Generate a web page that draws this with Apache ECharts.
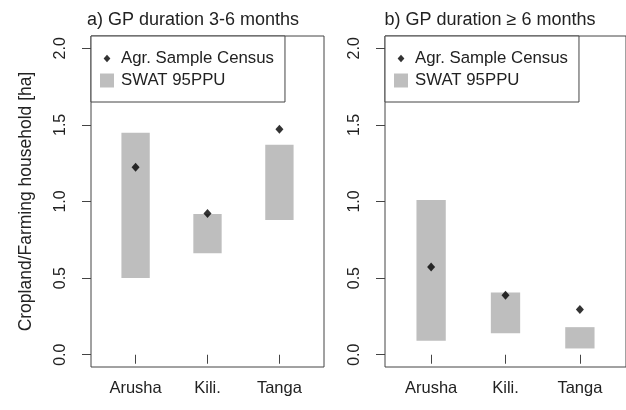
<!DOCTYPE html>
<html>
<head>
<meta charset="utf-8">
<script src="https://cdn.jsdelivr.net/npm/echarts@6/dist/echarts.min.js"></script>
<style>html,body{margin:0;padding:0;background:#fff;}#c{width:626px;height:410px;}</style>
</head>
<body>
<div id="c"></div>
<script>
// ---- data ----
const categories = ['Arusha', 'Kili.', 'Tanga'];
const yTicks = [0, 0.5, 1.0, 1.5, 2.0];
const titles = ['a) GP duration 3-6 months', 'b) GP duration \u2265 6 months'];
const yTitle = 'Cropland/Farming household [ha]';
const seriesNames = ['Agr. Sample Census', 'SWAT 95PPU'];
// panel a) GP duration 3-6 months
const censusA = [1.224, 0.921, 1.471];
const swatLowA = [0.50, 0.663, 0.88];
const swatHighA = [1.449, 0.919, 1.371];
// panel b) GP duration >= 6 months
const censusB = [0.572, 0.389, 0.295];
const swatLowB = [0.091, 0.141, 0.041];
const swatHighB = [1.01, 0.406, 0.18];

const xPos = categories.map((c, i) => i + 1);
const FONT = '"Liberation Sans", Arial, Helvetica, sans-serif';
const TXT = '#222';
const LINE = '#444';
const BAR_HALF = 0.197;

function rangeData(lo, hi) { return xPos.map((x, i) => [x, lo[i], hi[i]]); }
function pointData(v) { return xPos.map((x, i) => [x, v[i]]); }

function renderRange(params, api) {
  const x = api.value(0), lo = api.value(1), hi = api.value(2);
  const p1 = api.coord([x - BAR_HALF, hi]);
  const p2 = api.coord([x + BAR_HALF, lo]);
  return { type: 'rect', shape: { x: p1[0], y: p1[1], width: p2[0] - p1[0], height: p2[1] - p1[1] },
           style: { fill: '#bebebe' } };
}

function xAxis(gi) {
  return {
    type: 'value', gridIndex: gi, min: 0.38, max: 3.62,
    axisLine: { show: false }, splitLine: { show: false },
    axisTick: { show: true, customValues: xPos, length: 9, lineStyle: { color: LINE } },
    axisLabel: { customValues: xPos, margin: 13, color: TXT, fontFamily: FONT, fontSize: 16.5,
                 formatter: v => categories[Math.round(v) - 1] || '' }
  };
}
function yAxis(gi, withName) {
  const o = {
    type: 'value', gridIndex: gi, min: -0.08, max: 2.08,
    axisLine: { show: false }, splitLine: { show: false },
    axisTick: { show: true, customValues: yTicks, length: 9, lineStyle: { color: LINE } },
    axisLabel: { customValues: yTicks, rotate: 90, margin: 22, color: TXT, fontFamily: FONT, fontSize: 16,
                 formatter: v => v.toFixed(1) }
  };
  if (withName) {
    Object.assign(o, { name: yTitle, nameLocation: 'middle', nameRotate: 90, nameGap: 56,
      nameTextStyle: { color: TXT, fontFamily: FONT, fontSize: 17.5 } });
  }
  return o;
}
const diamondIcon = 'path://M0,0M14,14M7,3.3L10.4,7L7,10.7L3.6,7Z';
function legend(left) {
  return {
    left: left, top: 36, orient: 'vertical', itemWidth: 14, itemHeight: 14, itemGap: 5,
    padding: [14, 11, 13, 9], borderColor: LINE, borderWidth: 1, backgroundColor: '#fff',
    selectedMode: false,
    textStyle: { color: TXT, fontFamily: FONT, fontSize: 16.8, padding: [0, 0, 0, 2] },
    data: [
      { name: seriesNames[0], icon: diamondIcon, itemStyle: { color: '#000' } },
      { name: seriesNames[1], icon: 'rect', itemStyle: { color: '#bebebe' } }
    ]
  };
}

const chart = echarts.init(document.getElementById('c'), null, { renderer: 'canvas' });
chart.setOption({
  animation: false,
  backgroundColor: '#fff',
  title: [
    { text: titles[0], left: 193, top: 11, textAlign: 'center', padding: 0,
      textStyle: { color: TXT, fontFamily: FONT, fontSize: 18, fontWeight: 'normal' } },
    { text: titles[1], left: 490, top: 11, textAlign: 'center', padding: 0,
      textStyle: { color: TXT, fontFamily: FONT, fontSize: 18, fontWeight: 'normal' } }
  ],
  grid: [
    { left: 91, top: 36, width: 233, height: 331, show: true, borderColor: LINE, borderWidth: 1 },
    { left: 385, top: 36, width: 242, height: 331, show: true, borderColor: LINE, borderWidth: 1 }
  ],
  legend: [legend(91), legend(385)],
  xAxis: [xAxis(0), xAxis(1)],
  yAxis: [yAxis(0, true), yAxis(1, false)],
  series: [
    { name: seriesNames[1], type: 'custom', xAxisIndex: 0, yAxisIndex: 0, renderItem: renderRange,
      itemStyle: { color: '#bebebe' }, encode: { x: 0, y: [1, 2] }, data: rangeData(swatLowA, swatHighA), z: 1 },
    { name: seriesNames[0], type: 'scatter', xAxisIndex: 0, yAxisIndex: 0, symbol: 'diamond', symbolSize: [8, 9],
      itemStyle: { color: '#000' }, data: pointData(censusA), z: 3 },
    { name: seriesNames[1], type: 'custom', xAxisIndex: 1, yAxisIndex: 1, renderItem: renderRange,
      itemStyle: { color: '#bebebe' }, encode: { x: 0, y: [1, 2] }, data: rangeData(swatLowB, swatHighB), z: 1 },
    { name: seriesNames[0], type: 'scatter', xAxisIndex: 1, yAxisIndex: 1, symbol: 'diamond', symbolSize: [8, 9],
      itemStyle: { color: '#000' }, data: pointData(censusB), z: 3 }
  ]
});
</script>
</body>
</html>
